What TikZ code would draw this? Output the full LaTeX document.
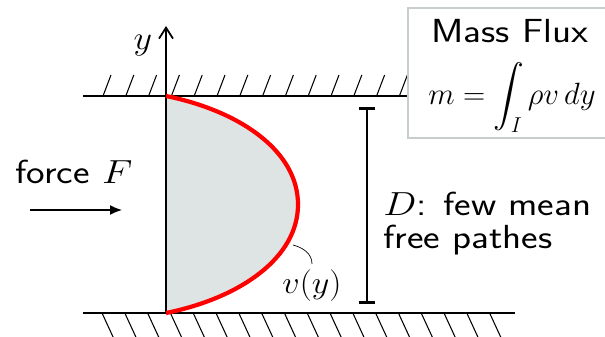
\documentclass[tikz,border=0pt]{standalone}
\usepackage{fix-cm}
\usepackage{xcolor}
\usepackage{amsmath}
\usepackage{amssymb}
\usepackage{tikz}
\usetikzlibrary{arrows.meta, positioning}

\definecolor{flowgray}{RGB}{222,228,227}
\definecolor{boxgray}{RGB}{200,206,202}

\begin{document}
\begin{tikzpicture}[
    wall/.style={line width=1.5pt},
    hatch/.style={line width=0.6pt},
    sflabel/.style={font=\sffamily\fontsize{19}{19}\selectfont, xscale=1.18, transform shape},
    mlabel/.style={font=\fontsize{18}{18}\selectfont, xscale=1.08, transform shape}]
  \useasboundingbox (0,0) rectangle (12.1,6.72);

  % Velocity profile (filled area)
  \coordinate (top) at (3.32,4.8);
  \coordinate (bot) at (3.32,0.46);
  \coordinate (tip) at (5.96,2.63);
  \fill[flowgray] (top) .. controls (4.8,4.5) and (5.96,3.70) .. (tip)
                        .. controls (5.96,1.56) and (4.8,0.76) .. (bot) -- cycle;

  % Walls with hatching
  \foreach \x in {0,...,17} {
    \draw[hatch] (2.06+0.456*\x,4.8) -- ++(0.16,0.42);
    \draw[hatch] (2.04+0.456*\x,0.46) -- ++(0.24,-0.52);
  }
  \draw[wall] (1.66,4.8) -- (10.3,4.8);
  \draw[wall] (1.66,0.46) -- (10.3,0.46);

  % y axis
  \coordinate (ytop) at (3.32,6.2);
  \draw[line width=0.6pt, -{Straight Barb[length=2.2mm,width=2.8mm,line width=1pt]}] (bot) -- (ytop);
  \node[mlabel, font=\fontsize{19}{19}\selectfont] (ylab) at (2.86,5.8) {$y$};

  % Velocity profile (red curve)
  \draw[red, line width=2.4pt] (top) .. controls (4.8,4.5) and (5.96,3.70) .. (tip)
                                     .. controls (5.96,1.56) and (4.8,0.76) .. (bot);

  % Label v(y)
  \node[mlabel] (vlab) at (6.24,1.0) {$v(y)$};
  \coordinate (vpt) at (5.86,1.82);
  \draw[line width=0.4pt] (vpt) to[out=-15,in=90] (vlab.north);

  % Force
  \node[sflabel, anchor=base west, inner sep=0] (force) at (0.3,3.06) {force $F$};
  \coordinate (fstart) at (0.6,2.52);
  \coordinate (fend) at (2.44,2.52);
  \draw[line width=0.8pt, -{Latex[length=2.4mm,width=2mm]}] (fstart) -- (fend);

  % Channel width D
  \coordinate (dtop) at (7.34,4.58);
  \coordinate (dbot) at (7.34,0.64);
  \draw[line width=1.5pt, {Bar[width=3.2mm]}-{Bar[width=3.2mm]}] (dtop) -- (dbot);
  \node[sflabel, anchor=west, align=left, inner sep=0] (dlab) at (7.66,2.25) {$D$: few mean\\free pathes};

  % Mass flux box
  \draw[boxgray, line width=1.1pt, fill=white] (8.16,3.96) rectangle (12.3,6.56);
  \node[sflabel, inner sep=0] (mflux) at (10.2,6.1) {Mass Flux};
  \node[font=\fontsize{17.5}{17.5}\selectfont, anchor=base, inner sep=0] (mform) at (10.24,4.63)
    {$\displaystyle m=\int_I \rho v\,dy$};
\end{tikzpicture}
\end{document}
